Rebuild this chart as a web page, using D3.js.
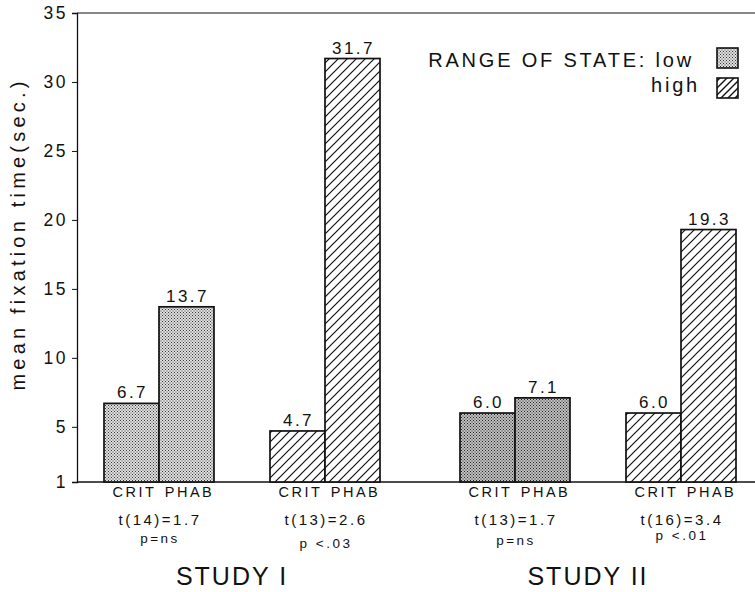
<!DOCTYPE html>
<html><head><meta charset="utf-8">
<script src="https://cdn.jsdelivr.net/npm/d3@7"></script>
<style>body{margin:0;background:#fff}svg{display:block}text{font-family:"Liberation Sans",Arial,sans-serif;fill:#111}</style>
</head><body>
<script>
const studies = ["STUDY I", "STUDY II"];
const ranges = ["low", "high"];
const conditions = ["CRIT", "PHAB"];
const studyI_low = [6.7, 13.7];
const studyI_high = [4.7, 31.7];
const studyII_low = [6.0, 7.1];
const studyII_high = [6.0, 19.3];
const valueLabels = [["6.7","13.7"],["4.7","31.7"],["6.0","7.1"],["6.0","19.3"]];
const tStats = ["t(14)=1.7", "t(13)=2.6", "t(13)=1.7", "t(16)=3.4"];
const pValues = ["p=ns", "p <.03", "p=ns", "p <.01"];
const yTicks = [1, 5, 10, 15, 20, 25, 30, 35];
const legendLabels = ["RANGE OF STATE: low", "high"];

const groups = [
  {study: studies[0], range: ranges[0], vals: studyI_low},
  {study: studies[0], range: ranges[1], vals: studyI_high},
  {study: studies[1], range: ranges[0], vals: studyII_low},
  {study: studies[1], range: ranges[1], vals: studyII_high}
];
// layout only: vertical position of the p-value line per group
const pLineY = [543, 548, 545, 540];

const W = 755, H = 592;
const svg = d3.select("body").append("svg").attr("width", W).attr("height", H);
const defs = svg.append("defs");

function stipple(id, bg, dot) {
  const p = defs.append("pattern").attr("id", id).attr("patternUnits", "userSpaceOnUse")
    .attr("width", 3).attr("height", 3);
  p.append("rect").attr("width", 3).attr("height", 3).attr("fill", bg);
  p.append("rect").attr("x", 0).attr("y", 0).attr("width", 1).attr("height", 1).attr("fill", dot);
  p.append("rect").attr("x", 1.5).attr("y", 1.5).attr("width", 1).attr("height", 1).attr("fill", dot);
}
stipple("stipA", "#e0e0e0", "#333");
stipple("stipB", "#c0c0c0", "#222");
function hatch(id, s, w) {
  const p = defs.append("pattern").attr("id", id).attr("patternUnits", "userSpaceOnUse")
    .attr("width", s).attr("height", s);
  p.append("rect").attr("width", s).attr("height", s).attr("fill", "#fff");
  p.append("path").attr("d", `M0,${s} L${s},0 M${-s/4},${s/4} L${s/4},${-s/4} M${s*3/4},${s*5/4} L${s*5/4},${s*3/4}`)
    .attr("stroke", "#111").attr("stroke-width", w);
}
hatch("hatch", 9, 1.2);
hatch("hatchSmall", 7, 1.4);

const y = d3.scaleLinear().domain([1, 35]).range([482, 13]);
const xStudy = d3.scaleBand().domain(studies).range([64, 776]);
const xRange = d3.scaleBand().domain(ranges).range([12, 344]);
const xCond = d3.scaleBand().domain(conditions).range([-55, 55]);

const axisX = 77;
const yAxis = svg.append("g").attr("transform", `translate(${axisX},0)`)
  .call(d3.axisLeft(y).tickValues(yTicks).tickSize(5).tickPadding(4).tickFormat(d3.format("d")));
yAxis.select(".domain").attr("stroke", "#111").attr("stroke-width", 1.3);
yAxis.selectAll(".tick line").attr("stroke", "#111");
yAxis.selectAll(".tick text").attr("font-size", 17.5).attr("letter-spacing", 2.5).attr("fill", "#222");
svg.append("line").attr("x1", axisX).attr("x2", W).attr("y1", y(35)).attr("y2", y(35)).attr("stroke", "#111").attr("stroke-width", 1.2);
svg.append("line").attr("x1", axisX).attr("x2", W).attr("y1", y(1)).attr("y2", y(1)).attr("stroke", "#111").attr("stroke-width", 1.3);

svg.append("text").attr("transform", `translate(25,234) rotate(-90)`)
  .attr("text-anchor", "middle").attr("font-size", 20).attr("letter-spacing", 4.2).text("mean fixation time(sec.)");

groups.forEach((g, gi) => {
  const cx = xStudy(g.study) + xRange(g.range) + xRange.bandwidth() / 2;
  const fill = g.range === "high" ? "url(#hatch)" : (g.study === studies[0] ? "url(#stipA)" : "url(#stipB)");
  const gg = svg.append("g").attr("transform", `translate(${cx},0)`);
  gg.selectAll("rect.bar").data(g.vals).join("rect").attr("class", "bar")
    .attr("x", (d, i) => xCond(conditions[i]))
    .attr("width", xCond.bandwidth())
    .attr("y", d => y(d)).attr("height", d => y(1) - y(d))
    .attr("fill", fill).attr("stroke", "#111").attr("stroke-width", 1.7);
  gg.selectAll("text.val").data(g.vals).join("text").attr("class", "val")
    .attr("x", (d, i) => xCond(conditions[i]) + xCond.bandwidth() / 2 + 1)
    .attr("y", d => y(d) - 5).attr("text-anchor", "middle").attr("font-size", 17).attr("letter-spacing", 2.5)
    .text((d, i) => valueLabels[gi][i]);
  gg.selectAll("text.cond").data(conditions).join("text").attr("class", "cond")
    .attr("x", c => xCond(c) + xCond.bandwidth() / 2 + 3)
    .attr("y", 497).attr("text-anchor", "middle").attr("font-size", 14.5).attr("letter-spacing", 2.5).text(c => c);
  gg.append("text").attr("x", 1).attr("y", 525).attr("text-anchor", "middle").attr("font-size", 15).attr("letter-spacing", 2.5).text(tStats[gi]);
  gg.append("text").attr("x", 1).attr("y", pLineY[gi]).attr("text-anchor", "middle").attr("font-size", 13.5).attr("letter-spacing", 2.5).text(pValues[gi]);
});

studies.forEach(s => {
  svg.append("text").attr("x", xStudy(s) + xStudy.bandwidth() / 2 - 10).attr("y", 585)
    .attr("text-anchor", "middle").attr("font-size", 25).attr("letter-spacing", 2).text(s);
});

const legendFills = ["url(#stipA)", "url(#hatchSmall)"];
legendLabels.forEach((t, i) => {
  svg.append("text").attr("x", i === 0 ? 694 : 700).attr("y", 67 + i * 25).attr("text-anchor", "end")
    .attr("font-size", 20).attr("letter-spacing", 2.8).text(t);
  svg.append("rect").attr("x", 717).attr("y", 48 + i * 30).attr("width", 21).attr("height", 20)
    .attr("fill", legendFills[i]).attr("stroke", "#111").attr("stroke-width", 1.6);
});
</script>
</body></html>
